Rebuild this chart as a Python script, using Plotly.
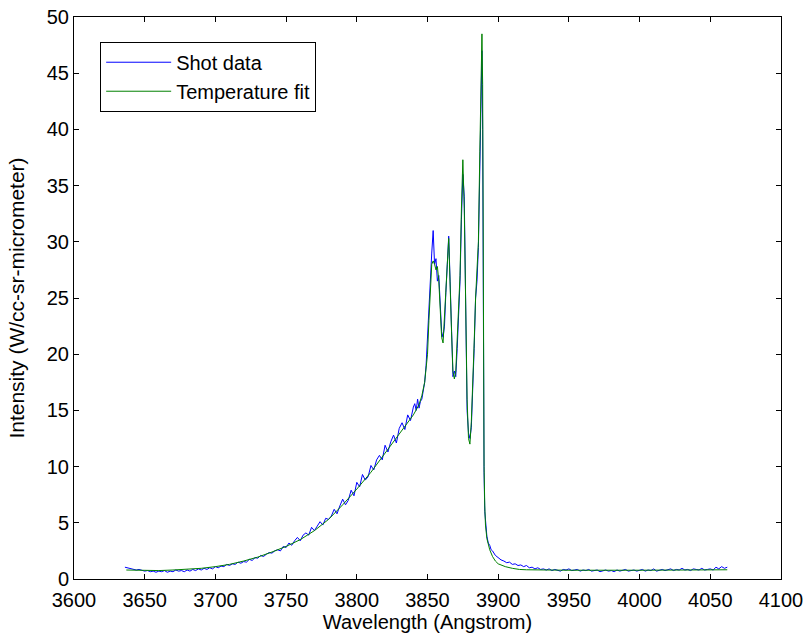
import plotly.graph_objects as go

# ---- Shot data (blue) ----
shot_wavelength = [
    3636, 3638, 3640, 3642, 3644, 3646, 3648, 3650, 3652, 3654, 3656, 3658, 3660, 3662, 3664, 3666, 3668, 3670,
    3672, 3674, 3676, 3678, 3680, 3682, 3684, 3686, 3688, 3690, 3692, 3694, 3696, 3698, 3700, 3702, 3704, 3706,
    3708, 3710, 3712, 3714, 3716, 3718, 3720, 3722, 3724, 3726, 3728, 3730, 3732, 3734, 3736, 3738, 3740, 3742,
    3744, 3746, 3748, 3750, 3752, 3754, 3756, 3758, 3760, 3762, 3764, 3766, 3768, 3770, 3772, 3774, 3776, 3778,
    3780, 3782, 3784, 3786, 3788, 3790, 3792, 3794, 3796, 3798, 3800, 3802, 3804, 3806, 3808, 3810, 3812, 3814,
    3816, 3818, 3820, 3822, 3824, 3826, 3828, 3830, 3832, 3834, 3836, 3838, 3840,
    3841, 3842, 3843, 3844, 3845, 3846, 3847, 3848, 3849, 3850, 3851, 3852, 3853, 3854, 3855, 3856, 3857, 3858,
    3859, 3860, 3861, 3862, 3863, 3864, 3865, 3866, 3867, 3868, 3869, 3870, 3871, 3872, 3873, 3874, 3875, 3876,
    3877, 3878, 3879, 3880, 3881, 3882, 3883, 3884, 3885, 3886, 3887, 3888, 3888.5, 3889, 3889.5, 3890, 3890.5,
    3891, 3892, 3893, 3894, 3895,
    3896, 3898, 3900, 3902, 3904, 3906, 3908, 3910, 3912, 3914, 3916, 3918, 3920, 3922, 3924, 3926, 3928, 3930,
    3932, 3934, 3936, 3938, 3940, 3942, 3944, 3946, 3948, 3950, 3952, 3954, 3956, 3958, 3960, 3962, 3964, 3966,
    3968, 3970, 3972, 3974, 3976, 3978, 3980, 3982, 3984, 3986, 3988, 3990, 3992, 3994, 3996, 3998, 4000, 4002,
    4004, 4006, 4008, 4010, 4012, 4014, 4016, 4018, 4020, 4022, 4024, 4026, 4028, 4030, 4032, 4034, 4036, 4038,
    4040, 4042, 4044, 4046, 4048, 4050, 4052, 4054, 4056, 4058, 4060, 4062,
]
shot_intensity = [
    1.05, 1.0, 0.95, 0.85, 0.8, 0.85, 0.75, 0.7, 0.75, 0.65, 0.7, 0.6, 0.7, 0.65, 0.75, 0.6, 0.7, 0.65,
    0.8, 0.7, 0.75, 0.65, 0.8, 0.7, 0.85, 0.75, 0.9, 0.8, 0.95, 0.85, 1.0, 0.9, 1.1, 1.0, 1.15, 1.1,
    1.3, 1.2, 1.35, 1.3, 1.5, 1.4, 1.55, 1.5, 1.75, 1.65, 1.9, 1.85, 2.1, 2.0, 2.2, 2.35, 2.3, 2.5,
    2.6, 2.5, 2.9, 2.8, 3.2, 3.0, 3.4, 3.7, 3.4, 3.9, 4.1, 3.9, 4.6, 4.3, 4.7, 5.1, 4.8, 5.4,
    5.3, 5.6, 6.2, 5.8, 6.5, 7.1, 6.6, 7.0, 7.9, 7.4, 8.6, 8.2, 9.3, 8.8, 9.1, 10.1, 9.7, 10.6,
    11.0, 10.6, 11.9, 11.3, 12.2, 12.8, 12.1, 13.4, 13.9, 13.3, 14.6, 14.1, 15.3,
    15.6, 15.0, 16.0, 15.2, 15.8, 16.0, 16.8, 17.5, 19.0, 21.5, 24.5, 27.5, 29.0, 31.0, 28.0, 28.5, 26.5, 27.0,
    24.5, 22.0, 21.5, 22.5, 25.5, 27.5, 30.5, 26.5, 21.5, 18.0, 18.5, 18.0, 20.5, 24.0, 26.5, 32.0, 36.0, 34.0,
    23.0, 15.0, 13.0, 12.5, 13.5, 16.5, 20.5, 25.0, 26.5, 29.5, 37.0, 45.0, 47.0, 40.0, 20.0, 9.5, 6.0,
    5.0, 3.8, 3.2, 3.0, 2.6,
    2.5, 2.1, 1.9, 1.7, 1.6, 1.45, 1.5, 1.3, 1.35, 1.2, 1.25, 1.1, 1.2, 1.0, 1.05, 0.9, 1.0, 0.85,
    0.9, 0.8, 0.9, 0.75, 0.85, 0.8, 0.7, 0.85, 0.8, 0.9, 0.75, 0.8, 0.85, 0.7, 0.8, 0.75, 0.85, 0.7,
    0.75, 0.8, 0.65, 0.75, 0.8, 0.7, 0.75, 0.65, 0.8, 0.7, 0.75, 0.85, 0.7, 0.75, 0.8, 0.7, 0.75, 0.85,
    0.7, 0.8, 0.75, 0.9, 0.7, 0.8, 0.85, 0.75, 0.8, 0.9, 0.75, 0.85, 0.8, 0.95, 0.8, 0.85, 0.75, 0.9,
    0.85, 0.8, 0.95, 0.8, 0.85, 0.9, 0.8, 1.05, 0.9, 1.1, 0.95, 1.05,
]

# ---- Temperature fit (green) ----
fit_wavelength = [
    3637, 3650, 3660, 3670, 3680, 3690, 3700, 3710, 3720, 3730, 3740, 3750, 3760, 3770, 3780, 3790, 3800,
    3810, 3820, 3830, 3835, 3840, 3844, 3846, 3848, 3850, 3851, 3852, 3853, 3854, 3855, 3856, 3857, 3858,
    3859, 3860, 3861, 3862, 3863, 3864, 3865, 3866, 3867, 3868, 3869, 3870, 3871, 3872, 3873, 3874, 3875,
    3876, 3877, 3878, 3879, 3880, 3881, 3882, 3883, 3884, 3885, 3886, 3887, 3888, 3888.5, 3889, 3889.5,
    3890, 3890.5, 3891, 3892, 3894, 3896, 3898, 3900, 3905, 3910, 3915, 3920, 3930, 3950, 4000, 4050, 4062,
]
fit_intensity = [
    0.8, 0.75, 0.75, 0.8, 0.85, 0.95, 1.1, 1.3, 1.6, 1.95, 2.4, 2.9, 3.5, 4.3, 5.3, 6.6, 8.0,
    9.5, 11.2, 12.9, 13.7, 14.6, 15.5, 16.3, 17.5, 20.0, 23.0, 26.0, 28.0, 28.3, 28.0, 27.5, 27.8, 26.5,
    24.0, 21.5, 21.0, 23.0, 26.0, 28.0, 30.3, 27.0, 22.0, 18.5, 17.8, 18.5, 21.0, 23.5, 27.0, 33.0, 37.3,
    33.0, 24.0, 16.0, 12.5, 12.0, 14.0, 17.0, 21.0, 25.0, 27.0, 30.0, 38.0, 46.0, 48.5, 44.0, 24.0,
    10.0, 6.5, 4.8, 3.6, 2.6, 2.0, 1.6, 1.35, 1.1, 0.95, 0.85, 0.82, 0.8, 0.78, 0.78, 0.8, 0.82,
]

x_ticks = [3600, 3650, 3700, 3750, 3800, 3850, 3900, 3950, 4000, 4050, 4100]
y_ticks = [0, 5, 10, 15, 20, 25, 30, 35, 40, 45, 50]

FONT = "Liberation Sans"

fig = go.Figure()
fig.add_trace(go.Scatter(x=shot_wavelength, y=shot_intensity, mode="lines", name="Shot data",
                         line=dict(color="#0000ff", width=1)))
fig.add_trace(go.Scatter(x=fit_wavelength, y=fit_intensity, mode="lines", name="Temperature fit",
                         line=dict(color="#008000", width=1)))

axis_common = dict(showline=True, linecolor="black", linewidth=1, mirror="ticks", ticks="inside",
                   ticklen=5, tickcolor="black", showgrid=False, zeroline=False, automargin=False,
                   tickfont=dict(family=FONT, size=20, color="black"))

fig.update_layout(
    width=804, height=639,
    margin=dict(l=74, r=23, t=17, b=60),
    paper_bgcolor="white", plot_bgcolor="white",
    font=dict(family=FONT, size=20, color="black"),
    xaxis=dict(range=[3600, 4100], tickvals=x_ticks, ticktext=[str(v) for v in x_ticks],
               ticklabelstandoff=3,
               title=dict(text="Wavelength (Angstrom)", font=dict(family=FONT, size=20), standoff=3),
               **axis_common),
    yaxis=dict(range=[0, 50], tickvals=y_ticks, ticktext=[str(v) for v in y_ticks],
               title=dict(text="Intensity (W/cc-sr-micrometer)", font=dict(family=FONT, size=21), standoff=16),
               **axis_common),
    legend=dict(x=0.037, y=0.956, xanchor="left", yanchor="top", bgcolor="white",
                bordercolor="black", borderwidth=1, font=dict(family=FONT, size=20),
                itemwidth=65, tracegroupgap=0),
    showlegend=True,
)

fig.write_html("out.html")
